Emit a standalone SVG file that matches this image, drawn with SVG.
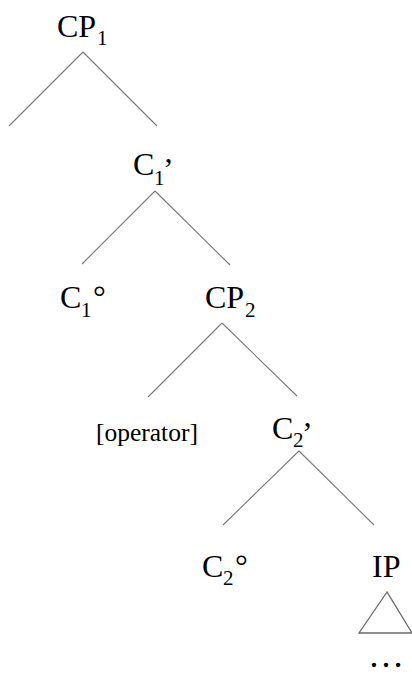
<svg xmlns="http://www.w3.org/2000/svg" width="412" height="677" viewBox="0 0 412 677">
<defs>
<symbol id="unused"/>
</defs>
<rect width="412" height="677" fill="#fff"/>
<g id="connectors" stroke="#7a7a7a" stroke-width="1.1" fill="none">
<line x1="83" y1="52" x2="9" y2="126"/>
<line x1="83" y1="52" x2="157" y2="126"/>
<line x1="155" y1="191" x2="82" y2="264"/>
<line x1="155" y1="191" x2="230" y2="265"/>
<line x1="222" y1="323" x2="148" y2="397"/>
<line x1="222" y1="323" x2="297" y2="396"/>
<line x1="299" y1="451" x2="223" y2="525"/>
<line x1="299" y1="451" x2="374" y2="525"/>
</g>
<g id="CP1"><text x="57" y="37" font-size="32" font-family="Liberation Serif">CP</text><text x="97" y="45" font-size="21" font-family="Liberation Serif">1</text></g>
<g id="C1bar"><text x="133" y="175" font-size="32" font-family="Liberation Serif">C</text><text x="154" y="185" font-size="21" font-family="Liberation Serif">1</text><text x="163" y="180" font-size="32" font-family="Liberation Serif">’</text></g>
<g id="C1head"><text x="60" y="308" font-size="32" font-family="Liberation Serif">C</text><text x="81" y="317" font-size="21" font-family="Liberation Serif">1</text><text x="93" y="308" font-size="32" font-family="Liberation Serif">°</text></g>
<g id="CP2"><text x="205" y="308" font-size="32" font-family="Liberation Serif">CP</text><text x="245" y="317" font-size="21" font-family="Liberation Serif">2</text></g>
<g id="operator"><text x="96" y="441" font-size="25.5" font-family="Liberation Serif">[operator]</text></g>
<g id="C2bar"><text x="272" y="439" font-size="32" font-family="Liberation Serif">C</text><text x="293" y="447" font-size="21" font-family="Liberation Serif">2</text><text x="302" y="444" font-size="32" font-family="Liberation Serif">’</text></g>
<g id="C2head"><text x="202" y="577" font-size="32" font-family="Liberation Serif">C</text><text x="223" y="585" font-size="21" font-family="Liberation Serif">2</text><text x="235" y="577" font-size="32" font-family="Liberation Serif">°</text></g>
<g id="IP"><text x="372" y="577" font-size="32" font-family="Liberation Serif">IP</text>
<polygon points="387,592 359,633 412,633" fill="none" stroke="#6a6a6a" stroke-width="1.3"/>
<text x="386" y="667" text-anchor="middle" font-size="36" font-family="Liberation Serif">…</text></g>
</svg>
